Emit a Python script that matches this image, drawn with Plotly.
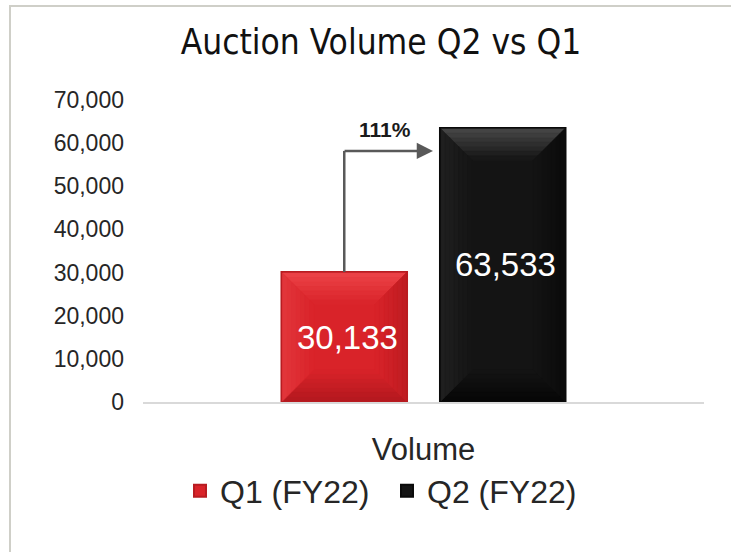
import plotly.graph_objects as go

# ---- data ----
categories = ["Volume"]
series_names = ["Q1 (FY22)", "Q2 (FY22)"]
q1_values = [30133]
q2_values = [63533]
y_ticks = [0, 10000, 20000, 30000, 40000, 50000, 60000, 70000]

# ---- styling ----
W, H = 731, 552
PLOT_L, PLOT_R, PLOT_T, PLOT_B = 143, 704, 100, 402
Y_MAX = 70000
red = "#D92329"
black = "#141414"
bargap = 0.435
bargroupgap = 0.208
font_main = "Liberation Sans, Arial, sans-serif"

fig = go.Figure()
fig.add_trace(go.Bar(
    x=categories, y=q1_values, name=series_names[0],
    marker=dict(color=red, line=dict(color="#B81C21", width=2)),
    textposition="none",
))
fig.add_trace(go.Bar(
    x=categories, y=q2_values, name=series_names[1],
    marker=dict(color=black, line=dict(color="#0A0A0A", width=2)),
    textposition="none",
))

# ---- bar geometry in data units (from the bar layout settings) ----
slot = (1 - bargap) / 2
bar_w = slot * (1 - bargroupgap)
px_x = 1.0 / (PLOT_R - PLOT_L)          # category units per pixel
px_y = Y_MAX / (PLOT_B - PLOT_T)        # value units per pixel


def hex2rgb(h):
    h = h.lstrip("#")
    return tuple(int(h[i:i + 2], 16) for i in (0, 2, 4))


def mix(c1, c2, t):
    a, b = hex2rgb(c1), hex2rgb(c2)
    return "#" + "".join(f"{round(x + (y - x) * t):02X}" for x, y in zip(a, b))


# ---- soft bevel on each bar (edge colour fading into the face colour) ----
bevel_specs = [
    (-slot / 2, q1_values[0], red, ("#EC4348", "#B3181E", "#E2363B", "#BE1C22")),
    (slot / 2, q2_values[0], black, ("#484848", "#060606", "#202020", "#0A0A0A")),
]
N_BANDS, BAND_PX = 7, 4.5
for cx, val, face, (c_top, c_bot, c_left, c_right) in bevel_specs:
    L, R, T, B = cx - bar_w / 2, cx + bar_w / 2, val, 0
    for k in range(N_BANDS):
        a, b = 1 + k * BAND_PX, 1 + (k + 1) * BAND_PX
        t = (k + 0.5) / N_BANDS
        ax_, bx_ = a * px_x, b * px_x
        ay_, by_ = a * px_y, b * px_y
        polys = [
            (mix(c_top, face, t), [(L + ax_, T - ay_), (R - ax_, T - ay_), (R - bx_, T - by_), (L + bx_, T - by_)]),
            (mix(c_bot, face, t), [(L + ax_, B + ay_), (R - ax_, B + ay_), (R - bx_, B + by_), (L + bx_, B + by_)]),
            (mix(c_left, face, t), [(L + ax_, T - ay_), (L + bx_, T - by_), (L + bx_, B + by_), (L + ax_, B + ay_)]),
            (mix(c_right, face, t), [(R - ax_, T - ay_), (R - bx_, T - by_), (R - bx_, B + by_), (R - ax_, B + ay_)]),
        ]
        for col, pts in polys:
            path = "M " + " L ".join(f"{px},{py}" for px, py in pts) + " Z"
            fig.add_shape(type="path", xref="x", yref="y", path=path,
                          fillcolor=col, line=dict(color=col, width=0.6), layer="above")

# ---- value labels, centred in each bar ----
for cx, val in ((-slot / 2, q1_values[0]), (slot / 2, q2_values[0])):
    fig.add_annotation(xref="x", yref="y", x=cx, y=val / 2, text=f"{val:,}",
                       showarrow=False, xanchor="center", yanchor="middle", xshift=3,
                       font=dict(family=font_main, size=33, color="white"))

# ---- growth arrow, positioned in data coordinates from the bar layout ----
red_center = -slot / 2
black_left = slot / 2 - bar_w / 2
q1 = q1_values[0]
q2 = q2_values[0]
y_h = q2 * 0.916
tip_x = black_left - 7 * px_x
growth = (q2 - q1) / q1
arrow_col = "#595959"

fig.add_shape(type="line", xref="x", yref="y",
              x0=red_center, x1=red_center, y0=q1, y1=y_h,
              line=dict(color=arrow_col, width=2.5))
fig.add_annotation(xref="x", yref="y", axref="x", ayref="y",
                   x=tip_x, y=y_h, ax=red_center - 1.2 * px_x, ay=y_h,
                   text="", showarrow=True, arrowhead=2, arrowsize=1.3,
                   arrowwidth=2.5, arrowcolor=arrow_col)
fig.add_annotation(xref="x", yref="y", x=(red_center + tip_x) / 2, y=y_h,
                   text=f"<b>{growth:.0%}</b>", showarrow=False, yshift=21, xshift=-4,
                   font=dict(family=font_main, size=21, color="#1a1a1a"))

# ---- chart border ----
fig.add_shape(type="rect", xref="paper", yref="paper",
              x0=10 / W, x1=1.05, y0=-0.05, y1=1 - 6 / H,
              line=dict(color="#CFCFC8", width=2), fillcolor="rgba(0,0,0,0)", layer="below")

fig.update_layout(
    width=W, height=H,
    margin=dict(l=0, r=0, t=0, b=0, autoexpand=False),
    paper_bgcolor="white", plot_bgcolor="white",
    barmode="group", bargap=bargap, bargroupgap=bargroupgap,
    title=dict(text="Auction Volume Q2 vs Q1", x=381 / W, xanchor="center",
               y=1 - 42 / H, yanchor="middle",
               font=dict(family="DejaVu Sans Condensed, Liberation Sans Narrow, sans-serif",
                         size=35, color="#111111")),
    xaxis=dict(domain=[PLOT_L / W, PLOT_R / W], range=[-0.5, 0.5], automargin=False,
               showline=True, linecolor="#D9D9D9", linewidth=1.5,
               showgrid=False, ticks="", ticklabelstandoff=19,
               tickfont=dict(family=font_main, size=31, color="#262626")),
    yaxis=dict(domain=[1 - PLOT_B / H, 1 - PLOT_T / H], range=[0, Y_MAX], automargin=False,
               tickvals=y_ticks, tickformat=",", showgrid=False, zeroline=False,
               showline=False, ticks="", ticklabelstandoff=18,
               tickfont=dict(family=font_main, size=23, color="#262626")),
    legend=dict(orientation="h", x=387 / W, xanchor="center", y=1 - 491 / H, yanchor="middle",
                font=dict(family=font_main, size=32, color="#262626"),
                itemwidth=30, entrywidth=162, entrywidthmode="pixels",
                bgcolor="rgba(0,0,0,0)"),
    showlegend=True,
)

fig.write_html("out.html", config={"displayModeBar": False},
               post_script="document.body.style.margin='0';")
